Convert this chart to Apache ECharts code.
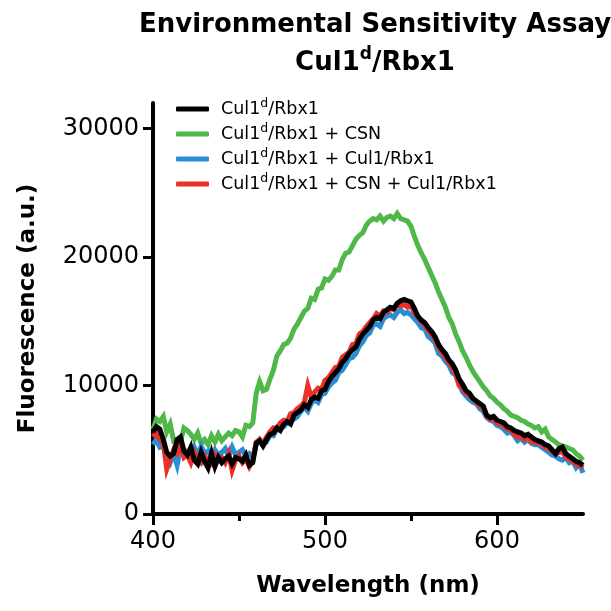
<!DOCTYPE html>
<html>
<head>
<meta charset="utf-8">
<title>Environmental Sensitivity Assay</title>
<script src="https://cdn.jsdelivr.net/npm/echarts@6/dist/echarts.min.js"></script>
<style>
  html, body { margin: 0; padding: 0; background: #fff; }
  #chart { width: 611px; height: 611px; }
</style>
</head>
<body>
<div id="chart"></div>
<script>
// wavelength grid (nm)
const wavelengths = [
  400, 402, 404, 406, 408, 410, 412, 414, 416, 418,
  420, 422, 424, 426, 428, 430, 432, 434, 436, 438,
  440, 442, 444, 446, 448, 450, 452, 454, 456, 458,
  460, 462, 464, 466, 468, 470, 472, 474, 476, 478,
  480, 482, 484, 486, 488, 490, 492, 494, 496, 498,
  500, 502, 504, 506, 508, 510, 512, 514, 516, 518,
  520, 522, 524, 526, 528, 530, 532, 534, 536, 538,
  540, 542, 544, 546, 548, 550, 552, 554, 556, 558,
  560, 562, 564, 566, 568, 570, 572, 574, 576, 578,
  580, 582, 584, 586, 588, 590, 592, 594, 596, 598,
  600, 602, 604, 606, 608, 610, 612, 614, 616, 618,
  620, 622, 624, 626, 628, 630, 632, 634, 636, 638,
  640, 642, 644, 646, 648, 650
]

const cul1d = [
  6400, 6800, 6600, 5800, 4800, 4500, 4700, 5800, 6000, 4900,
  4600, 5200, 4200, 3900, 4800, 4100, 3600, 4700, 3700, 4400,
  4000, 4300, 4500, 3900, 4400, 4300, 4100, 4600, 3800, 4000,
  5500, 5700, 5300, 5800, 6200, 6300, 6700, 6500, 7000, 7200,
  7000, 7700, 7900, 8100, 8500, 8300, 8900, 9100, 9000, 9600,
  9700, 10300, 10700, 11000, 11300, 11800, 12100, 12500, 12800, 13000,
  13600, 14000, 14300, 14600, 15100, 15300, 15200, 15700, 15900, 16100,
  16000, 16400, 16600, 16700, 16600, 16500, 16000, 15400, 15100, 14900,
  14500, 14200, 13800, 13200, 12800, 12500, 12000, 11700, 11200, 10500,
  10100, 9600, 9400, 9000, 8800, 8600, 8400, 7700, 7500, 7600,
  7300, 7200, 7100, 6800, 6700, 6500, 6400, 6300, 6100, 6200,
  6000, 5800, 5700, 5600, 5400, 5300, 5000, 4700, 5100, 5200,
  4700, 4500, 4300, 4100, 4000, 3800
]

const cul1dCsn = [
  6600, 7400, 7200, 7600, 6400, 7000, 5700, 5800, 5600, 6700,
  6500, 6200, 5800, 6300, 5500, 5800, 5400, 6100, 5600, 6200,
  5700, 6000, 6300, 6100, 6500, 6400, 6000, 6900, 6800, 7100,
  9400, 10300, 9600, 9700, 10500, 11200, 12300, 12700, 13200, 13300,
  13700, 14400, 14800, 15300, 15800, 16000, 16800, 16700, 17500, 17600,
  18300, 18200, 18500, 19000, 19000, 19800, 20300, 20400, 20900, 21400,
  21700, 21900, 22500, 22800, 23000, 22900, 23200, 22800, 23100, 23200,
  23000, 23400, 23000, 22900, 22800, 22400, 21600, 20900, 20300, 19800,
  19200, 18600, 18000, 17300, 16700, 16100, 15300, 14800, 14000, 13400,
  12700, 12200, 11600, 11100, 10700, 10300, 9900, 9600, 9200, 9000,
  8700, 8500, 8200, 8000, 7700, 7600, 7500, 7300, 7200, 7000,
  6900, 6700, 6800, 6400, 6600, 6000, 5800, 5600, 5400, 5300,
  5200, 5100, 5000, 4700, 4500, 4200
]

const cul1dCul1 = [
  5400, 5800, 5200, 5300, 4500, 4000, 4700, 3800, 5200, 5000,
  4800, 4500, 5200, 4600, 5300, 4700, 4900, 4400, 5000, 4600,
  4800, 5100, 4500, 5200, 4600, 4800, 5000, 4500, 4700, 4400,
  5400, 5800, 5500, 5600, 6200, 6100, 6600, 6800, 6800, 7100,
  7300, 7400, 7600, 8000, 8300, 8000, 8600, 8900, 8700, 9300,
  9400, 9900, 10200, 10400, 11000, 11200, 11600, 12100, 12200, 12500,
  13100, 13400, 13900, 14100, 14700, 14800, 14600, 15200, 15400, 15500,
  15300, 15700, 15900, 15600, 15700, 15500, 15200, 14900, 14500, 14400,
  13800, 13600, 13300, 12500, 12300, 11900, 11600, 11000, 10800, 10100,
  9500, 9200, 8900, 8700, 8600, 8200, 8000, 7500, 7300, 7200,
  6900, 6800, 6600, 6300, 6400, 6100, 5700, 5900, 5600, 5800,
  5500, 5400, 5400, 5200, 5000, 4800, 4600, 4500, 4300, 4200,
  4400, 4000, 4100, 3600, 3900, 3200
]

const cul1dCsnCul1 = [
  6000, 6300, 5800, 5500, 3500, 4300, 5000, 4700, 5500, 4400,
  4600, 4000, 4800, 4300, 4000, 4500, 4100, 3900, 4600, 4200,
  4400, 4000, 4700, 3400, 4200, 4500, 4000, 4300, 3700, 4200,
  5600, 5800, 5500, 6000, 6400, 6700, 6600, 7100, 7300, 7200,
  7800, 7900, 8200, 8400, 8700, 10000, 9100, 9500, 9800, 9700,
  10400, 10600, 11000, 11400, 11500, 12200, 12400, 12600, 13200, 13300,
  14000, 14200, 14600, 14900, 15200, 15600, 15400, 15800, 15700, 16000,
  15900, 16300, 16200, 16300, 16100, 16200, 15700, 15300, 15000, 14700,
  14300, 14000, 13600, 13000, 12600, 12200, 11800, 11400, 10900, 10000,
  9800, 9400, 9200, 9000, 8700, 8400, 8300, 7600, 7400, 7400,
  7100, 7000, 6900, 6600, 6600, 6200, 6000, 6100, 5800, 6100,
  5600, 5600, 5500, 5500, 5200, 5100, 4900, 4700, 4800, 4900,
  4400, 4300, 4100, 3900, 3800, 3600
]

// legend order; '^d' marks the superscript
const seriesNames = [
  'Cul1^d/Rbx1',
  'Cul1^d/Rbx1 + CSN',
  'Cul1^d/Rbx1 + Cul1/Rbx1',
  'Cul1^d/Rbx1 + CSN + Cul1/Rbx1'
]
const seriesValues = [cul1d, cul1dCsn, cul1dCul1, cul1dCsnCul1]
const seriesColors = ['#000000', '#4fb848', '#2a8ed6', '#ec2f27']
const seriesZ = [6, 3, 4, 5]

const xMajorTicks = [400, 500, 600]
const xMinorTicks = [450, 550]
const yTicks = [0, 10000, 20000, 30000]

const FONT = 'DejaVu Sans'

// first chunk gets its own style so the legend text can be pushed right
function supText(name, first) {
  const parts = name.split('^d')
  return '{' + (first || 'n') + '|' + parts[0] + '}{s|d}{n|' + parts[1] + '}'
}

const chart = echarts.init(document.getElementById('chart'), null, { renderer: 'canvas' })

chart.setOption({
  animation: false,
  backgroundColor: '#fff',
  title: [
    {
      text: 'Environmental Sensitivity Assay',
      left: 370,
      top: 7,
      textAlign: 'center',
      textStyle: { fontFamily: FONT, fontSize: 26, fontWeight: 'bold', color: '#000' }
    },
    {
      text: supText('Cul1^d/Rbx1'),
      left: 370,
      top: 41,
      textAlign: 'center',
      textStyle: {
        fontFamily: FONT,
        rich: {
          n: { fontFamily: FONT, fontSize: 26, fontWeight: 'bold', color: '#000', lineHeight: 34 },
          s: { fontFamily: FONT, fontSize: 17, fontWeight: 'bold', color: '#000', lineHeight: 17, verticalAlign: 'top' }
        }
      }
    }
  ],
  legend: {
    orient: 'vertical',
    left: 171,
    top: 92,
    itemWidth: 33,
    itemHeight: 5,
    itemGap: 4,
    icon: 'roundRect',
    data: seriesNames,
    formatter: (name) => supText(name, 'f'),
    textStyle: {
      fontFamily: FONT,
      rich: {
        f: { fontFamily: FONT, fontSize: 17.5, color: '#000', lineHeight: 24, padding: [0, 0, 0, 7] },
        n: { fontFamily: FONT, fontSize: 17.5, color: '#000', lineHeight: 24 },
        s: { fontFamily: FONT, fontSize: 12.5, color: '#000', lineHeight: 12, verticalAlign: 'top' }
      }
    }
  },
  grid: { left: 153, right: 28, top: 103, bottom: 97, outerBoundsMode: 'none' },
  xAxis: [
    {
      type: 'value',
      min: 400,
      max: 650,
      name: 'Wavelength (nm)',
      nameLocation: 'middle',
      nameGap: 61,
      nameTextStyle: { fontFamily: FONT, fontSize: 23, fontWeight: 'bold', color: '#000' },
      splitLine: { show: false },
      axisLine: { show: true, onZero: false, lineStyle: { color: '#000', width: 4 } },
      axisTick: { show: true, customValues: xMajorTicks, length: 11, lineStyle: { color: '#000', width: 3 } },
      axisLabel: { customValues: xMajorTicks, margin: 16, fontFamily: FONT, fontSize: 24, color: '#000' }
    },
    {
      // short unlabelled ticks between the labelled ones
      type: 'value',
      min: 400,
      max: 650,
      position: 'bottom',
      splitLine: { show: false },
      axisLine: { show: false, onZero: false },
      axisTick: { show: true, customValues: xMinorTicks, length: 7, lineStyle: { color: '#000', width: 3 } },
      axisLabel: { show: false }
    }
  ],
  yAxis: {
    type: 'value',
    min: 0,
    max: 32000,
    name: 'Fluorescence (a.u.)',
    nameLocation: 'middle',
    nameGap: 113,
    nameTextStyle: { fontFamily: FONT, fontSize: 23, fontWeight: 'bold', color: '#000' },
    splitLine: { show: false },
    axisLine: { show: true, lineStyle: { color: '#000', width: 4 } },
    axisTick: { show: true, customValues: yTicks, length: 10, lineStyle: { color: '#000', width: 3 } },
    axisLabel: {
      customValues: yTicks,
      margin: 14,
      fontFamily: FONT,
      fontSize: 24,
      color: '#000',
      formatter: (v) => String(v)
    }
  },
  series: seriesNames.map((name, i) => ({
    name,
    type: 'line',
    showSymbol: false,
    symbol: 'none',
    z: seriesZ[i],
    data: wavelengths.map((w, j) => [w, seriesValues[i][j]]),
    lineStyle: { color: seriesColors[i], width: 5, join: 'miter' },
    itemStyle: { color: seriesColors[i] }
  }))
})

window.addEventListener('resize', () => chart.resize())
</script>
</body>
</html>
